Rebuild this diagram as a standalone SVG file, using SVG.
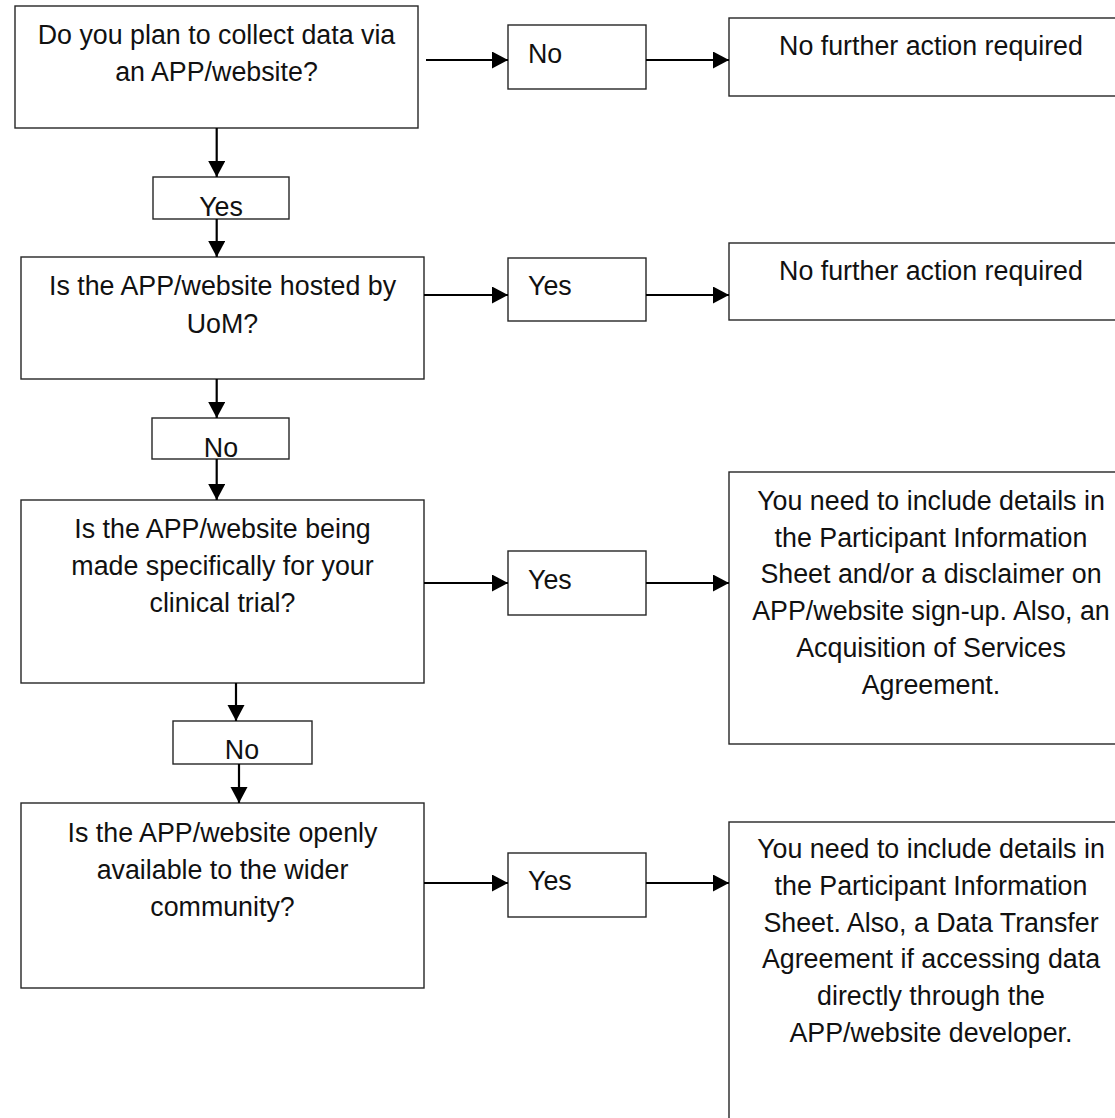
<svg xmlns="http://www.w3.org/2000/svg" width="1115" height="1118" viewBox="0 0 1115 1118">
<style>
.box{fill:#fff;stroke:#262626;stroke-width:1.4}
.t{font-family:"Liberation Sans",Arial,sans-serif;font-size:26.8px;fill:#111}
.c{text-anchor:middle}
.con line{stroke:#000;stroke-width:2.2;fill:none}
</style>
<defs>
<marker id="ah" markerUnits="userSpaceOnUse" markerWidth="17" markerHeight="18" refX="16" refY="8.5" orient="auto">
<path d="M0,0 L16,8.5 L0,17 z" fill="#000"/>
</marker>
</defs>
<rect width="1115" height="1118" fill="#fff"/>

<g id="q1"><rect class="box" x="15" y="6" width="403" height="122"/>
<text class="t c" x="216.5" y="44">Do you plan to collect data via</text>
<text class="t c" x="216.5" y="81">an APP/website?</text></g>

<g id="q1-no"><rect class="box" x="508" y="25" width="138" height="64"/>
<text class="t" x="528" y="63">No</text></g>

<g id="r1"><rect class="box" x="729" y="18" width="404" height="78"/>
<text class="t c" x="931" y="55">No further action required</text></g>

<g id="q1-yes"><rect class="box" x="153" y="177" width="136" height="42"/>
<text class="t c" x="221" y="216">Yes</text></g>

<g id="q2"><rect class="box" x="21" y="257" width="403" height="122"/>
<text class="t c" x="222.5" y="295">Is the APP/website hosted by</text>
<text class="t c" x="222.5" y="333">UoM?</text></g>

<g id="q2-yes"><rect class="box" x="508" y="258" width="138" height="63"/>
<text class="t" x="528" y="295">Yes</text></g>

<g id="r2"><rect class="box" x="729" y="243" width="404" height="77"/>
<text class="t c" x="931" y="280">No further action required</text></g>

<g id="q2-no"><rect class="box" x="152" y="418" width="137" height="41"/>
<text class="t c" x="221" y="457">No</text></g>

<g id="q3"><rect class="box" x="21" y="500" width="403" height="183"/>
<text class="t c" x="222.5" y="538">Is the APP/website being</text>
<text class="t c" x="222.5" y="575">made specifically for your</text>
<text class="t c" x="222.5" y="612">clinical trial?</text></g>

<g id="q3-yes"><rect class="box" x="508" y="551" width="138" height="64"/>
<text class="t" x="528" y="589">Yes</text></g>

<g id="r3"><rect class="box" x="729" y="472" width="404" height="272"/>
<text class="t c" x="931" y="510">You need to include details in</text>
<text class="t c" x="931" y="547">the Participant Information</text>
<text class="t c" x="931" y="583">Sheet and/or a disclaimer on</text>
<text class="t c" x="931" y="620">APP/website sign-up. Also, an</text>
<text class="t c" x="931" y="657">Acquisition of Services</text>
<text class="t c" x="931" y="694">Agreement.</text></g>

<g id="q3-no"><rect class="box" x="173" y="721" width="139" height="43"/>
<text class="t c" x="242" y="759">No</text></g>

<g id="q4"><rect class="box" x="21" y="803" width="403" height="185"/>
<text class="t c" x="222.5" y="842">Is the APP/website openly</text>
<text class="t c" x="222.5" y="879">available to the wider</text>
<text class="t c" x="222.5" y="916">community?</text></g>

<g id="q4-yes"><rect class="box" x="508" y="853" width="138" height="64"/>
<text class="t" x="528" y="890">Yes</text></g>

<g id="r4"><rect class="box" x="729" y="822" width="404" height="320"/>
<text class="t c" x="931" y="858">You need to include details in</text>
<text class="t c" x="931" y="895">the Participant Information</text>
<text class="t c" x="931" y="932">Sheet. Also, a Data Transfer</text>
<text class="t c" x="931" y="968">Agreement if accessing data</text>
<text class="t c" x="931" y="1005">directly through the</text>
<text class="t c" x="931" y="1042">APP/website developer.</text></g>

<g id="connectors" class="con">
<line x1="426" y1="60" x2="508" y2="60" marker-end="url(#ah)"/>
<line x1="646" y1="60" x2="729" y2="60" marker-end="url(#ah)"/>
<line x1="216.7" y1="128" x2="216.7" y2="177" marker-end="url(#ah)"/>
<line x1="216.7" y1="219" x2="216.7" y2="257" marker-end="url(#ah)"/>
<line x1="424" y1="295" x2="508" y2="295" marker-end="url(#ah)"/>
<line x1="646" y1="295" x2="729" y2="295" marker-end="url(#ah)"/>
<line x1="216.7" y1="379" x2="216.7" y2="418" marker-end="url(#ah)"/>
<line x1="216.7" y1="459" x2="216.7" y2="500" marker-end="url(#ah)"/>
<line x1="424" y1="583" x2="508" y2="583" marker-end="url(#ah)"/>
<line x1="646" y1="583" x2="729" y2="583" marker-end="url(#ah)"/>
<line x1="236" y1="683" x2="236" y2="721" marker-end="url(#ah)"/>
<line x1="239" y1="764" x2="239" y2="803" marker-end="url(#ah)"/>
<line x1="424" y1="883" x2="508" y2="883" marker-end="url(#ah)"/>
<line x1="646" y1="883" x2="729" y2="883" marker-end="url(#ah)"/>
</g>
</svg>
